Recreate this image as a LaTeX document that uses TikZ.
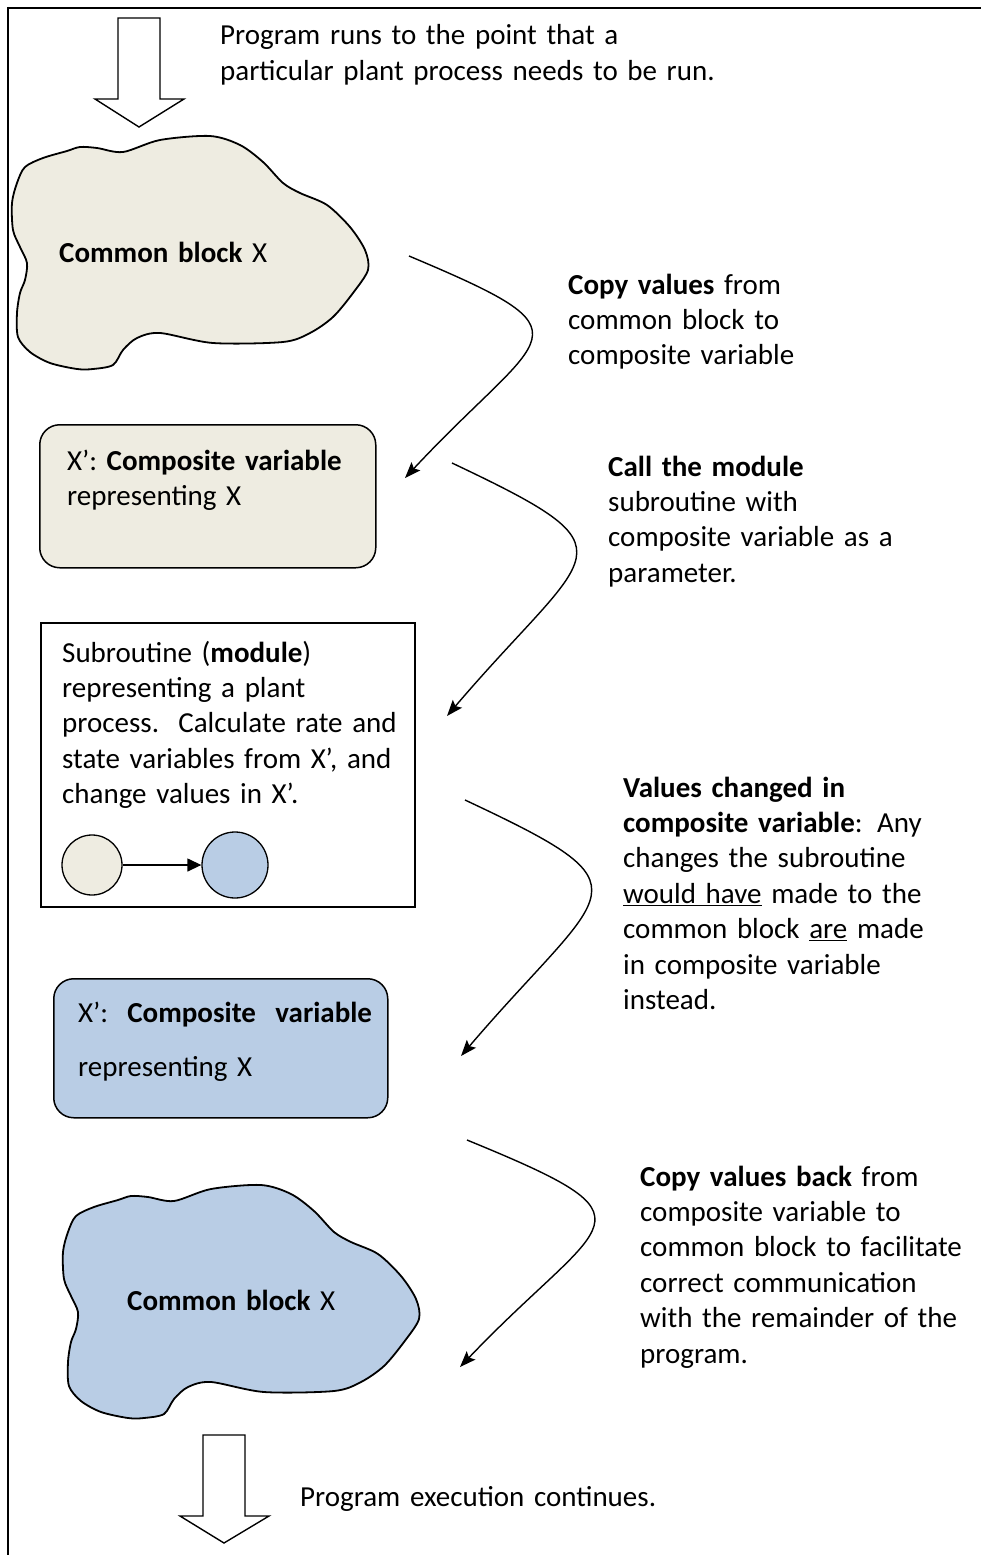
\documentclass[tikz,border=0pt]{standalone}
\usepackage{fontspec}
\setmainfont{Carlito}
\usetikzlibrary{arrows.meta,calc}
\definecolor{paper}{HTML}{EEECE1}
\definecolor{sky}{HTML}{B9CDE5}

\begin{document}
\begin{tikzpicture}[x=1pt,y=-1pt,
  txt/.style={anchor=base west, inner sep=0pt, align=left, text width=600pt,
              font=\fontsize{29}{35.4}\selectfont},
  hollow/.style={draw, fill=white, line width=1.4pt, line join=miter},
  flow/.style={draw, line width=1.4pt, -{Stealth[length=16pt,width=12pt,inset=3pt]}},
  rbox/.style={draw, line width=1.5pt, rounded corners=20pt, anchor=north west, inner sep=0pt},
  sbox/.style={draw, line width=1.5pt, anchor=north west, inner sep=0pt},
  dot/.style={circle, draw, line width=1.3pt, inner sep=0pt},
  blob/.pic={
    \path[pic actions, line width=1.8pt, line join=round]
      plot[smooth cycle, tension=0.5] coordinates {
        (67,151) (80,147) (97,148) (123,152) (160,140) (210,136) (240,145)
        (263,162) (283,183) (300,193) (327,205) (350,227) (365,250) (368,270)
        (353,293) (333,317) (310,333) (283,342) (213,343) (160,333) (137,338)
        (123,350) (113,365) (93,369) (77,369) (50,363) (30,352) (18,337)
        (17,313) (20,293) (25,280) (27,263) (20,247) (13,230) (12,203)
        (17,183) (25,167) (43,158)};
  }
]
\useasboundingbox (0,0) rectangle (981,1555);

% page frame: left rule and top rule
\draw[line width=1.5pt] (8,7) -- (8,1555);
\draw[line width=2.5pt] (7,8) -- (200,8);
\draw[line width=1.2pt] (200,8) -- (731,8);
\draw[line width=2.5pt] (731,8) -- (981,8);

% entry arrow and caption
\draw[hollow] (118,18) -- (160,18) -- (160,99) -- (184,99) -- (139,127)
  -- (95,99) -- (118,99) -- cycle;
\node[txt] (intro) at (220,45) {Program runs to the point that a\\
  particular plant process needs to be run.};

% common block before the call
\pic[draw, fill=paper] at (0,0) {blob};
\node[txt] (blobA) at (59,262) {\textbf{Common block} X};

% composite variable copied from the common block
\node[rbox, fill=paper, minimum width=336pt, minimum height=143pt] (boxA) at (39,424) {};
\node[txt] (boxAtxt) at (67,470) {X’: \textbf{Composite variable}\\representing X};

% the module subroutine
\node[sbox, minimum width=374pt, minimum height=284pt] (boxB) at (40,622) {};
\node[txt] (boxBtxt) at (62,662) {Subroutine (\textbf{module})\\
  representing a plant\\
  process.\ \ Calculate rate and\\
  state variables from X’, and\\
  change values in X’.};
\node[dot, fill=paper, minimum size=60pt] (cA) at (92,865) {};
\node[dot, fill=sky, minimum size=66pt] (cB) at (235,865) {};
\draw[line width=1.3pt, -{Triangle[length=14pt,width=13pt]}] (cA) -- (cB);

% composite variable after the call
\node[rbox, fill=sky, minimum width=334pt, minimum height=139pt] (boxC) at (53,978) {};
\node[txt] (boxCtxt) at (78,1022) {X’:\ \ \textbf{Composite\ \ variable}\\[18.6pt]representing X};

% common block after the copy back
\pic[draw, fill=sky] at (51,1049) {blob};
\node[txt] (blobB) at (127,1310) {\textbf{Common block} X};

% exit arrow and caption
\draw[hollow] (203,1435) -- (245,1435) -- (245,1516) -- (269,1516) -- (224,1543)
  -- (180,1516) -- (203,1516) -- cycle;
\node[txt] (outro) at (300,1506) {Program execution continues.};

% step descriptions
\node[txt] (stepA) at (568,294) {\textbf{Copy values} from\\common block to\\composite variable};
\node[txt] (stepB) at (608,476) {\textbf{Call the module}\\subroutine with\\composite variable as a\\parameter.};
\node[txt] (stepC) at (623,797) {\textbf{Values changed in}\\
  \textbf{composite variable}: Any\\
  changes the subroutine\\
  \underline{would have} made to the\\
  common block \underline{are} made\\
  in composite variable\\
  instead.};
\node[txt] (stepD) at (640,1186) {\textbf{Copy values back} from\\
  composite variable to\\
  common block to facilitate\\
  correct communication\\
  with the remainder of the\\
  program.};

% curved connectors between the stages
\coordinate (a1s) at (409,256);
\coordinate (a1e) at (405,478);
\coordinate (a2s) at (452,463);
\coordinate (a2e) at (447,716);
\coordinate (a3s) at (465,800);
\coordinate (a3e) at (461,1056);
\coordinate (a4s) at (467,1140);
\coordinate (a4e) at (460,1367);
\draw[flow] (a1s) .. controls ($(a1s)+(190,80)$) and ($(a1e)+(140,-150)$) .. (a1e);
\draw[flow] (a2s) .. controls ($(a2s)+(190,90)$) and ($(a2e)+(145,-170)$) .. (a2e);
\draw[flow] (a3s) .. controls ($(a3s)+(192,90)$) and ($(a3e)+(147,-172)$) .. (a3e);
\draw[flow] (a4s) .. controls ($(a4s)+(200,82)$) and ($(a4e)+(145,-152)$) .. (a4e);
\end{tikzpicture}
\end{document}
